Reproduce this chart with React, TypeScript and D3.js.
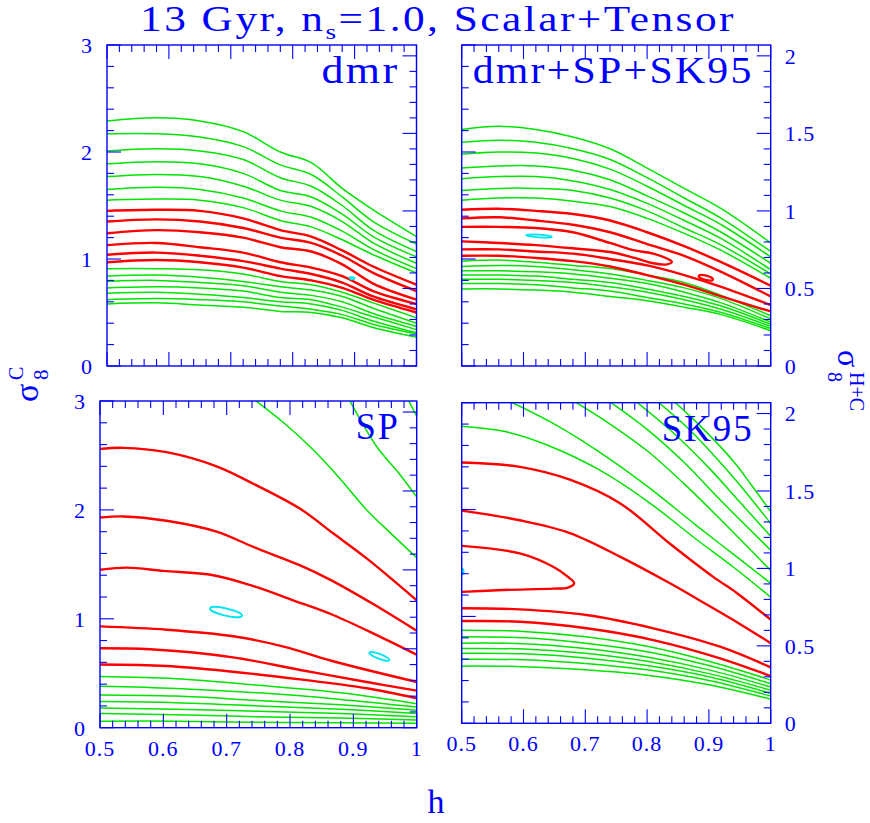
import React from "react";
import * as d3 from "d3";

// ---------------- data (h on x, sigma8^C on the 0..3 scale) ----------------
// dmr panel: all contours sampled on a common h grid
const dmrH = [0.5, 0.58, 0.65, 0.72, 0.78, 0.83, 0.88, 0.93, 1.0];
const dmrGreenUpper = [
  [2.29, 2.32, 2.29, 2.19, 2.0, 1.9, 1.66, 1.46, 1.21],
  [2.17, 2.17, 2.14, 2.05, 1.88, 1.79, 1.58, 1.35, 1.14],
  [2.01, 2.03, 2.01, 1.93, 1.76, 1.68, 1.5, 1.27, 1.07],
  [1.89, 1.91, 1.89, 1.8, 1.64, 1.58, 1.42, 1.21, 1.02],
  [1.77, 1.79, 1.77, 1.68, 1.55, 1.49, 1.35, 1.15, 0.96],
  [1.65, 1.67, 1.65, 1.57, 1.45, 1.39, 1.26, 1.09, 0.91],
  [1.55, 1.56, 1.55, 1.48, 1.36, 1.3, 1.18, 1.04, 0.87],
];
const dmrRed = [
  [1.45, 1.46, 1.45, 1.38, 1.27, 1.21, 1.08, 0.93, 0.76],
  [1.35, 1.37, 1.35, 1.29, 1.2, 1.15, 1.03, 0.87, 0.7],
  [1.24, 1.27, 1.25, 1.2, 1.11, 1.07, 0.95, 0.77, 0.62],
  [1.13, 1.15, 1.11, 1.06, 0.97, 0.92, 0.84, 0.7, 0.58],
  [1.04, 1.06, 1.03, 0.98, 0.91, 0.86, 0.78, 0.65, 0.53],
  [0.97, 0.99, 0.97, 0.92, 0.84, 0.8, 0.73, 0.62, 0.5],
];
const dmrGreenLower = [
  [0.91, 0.91, 0.9, 0.86, 0.79, 0.76, 0.69, 0.59, 0.45],
  [0.84, 0.85, 0.83, 0.79, 0.74, 0.71, 0.65, 0.54, 0.4],
  [0.79, 0.8, 0.78, 0.75, 0.69, 0.66, 0.6, 0.49, 0.37],
  [0.73, 0.74, 0.73, 0.7, 0.64, 0.62, 0.55, 0.46, 0.34],
  [0.68, 0.69, 0.67, 0.64, 0.6, 0.58, 0.52, 0.42, 0.31],
  [0.62, 0.63, 0.62, 0.6, 0.56, 0.53, 0.48, 0.39, 0.3],
  [0.58, 0.59, 0.57, 0.55, 0.51, 0.5, 0.45, 0.36, 0.27],
];
const dmrCyan = [{ h: 0.896, s: 0.82, dh: 0.004, ds: 0.01, angle: 10 }];

// dmr+SP+SK95 panel
const allH = [0.5, 0.56, 0.62, 0.68, 0.74, 0.8, 0.86, 0.92, 1.0];
const allGreenUpper = [
  [2.21, 2.24, 2.21, 2.14, 2.03, 1.85, 1.66, 1.47, 1.15],
  [2.09, 2.11, 2.09, 2.03, 1.93, 1.76, 1.57, 1.38, 1.07],
  [1.98, 2.0, 1.99, 1.94, 1.84, 1.68, 1.5, 1.32, 1.02],
  [1.85, 1.87, 1.87, 1.83, 1.74, 1.59, 1.43, 1.25, 0.96],
  [1.75, 1.77, 1.77, 1.73, 1.65, 1.52, 1.36, 1.19, 0.9],
  [1.64, 1.66, 1.66, 1.64, 1.57, 1.45, 1.29, 1.13, 0.86],
  [1.55, 1.57, 1.57, 1.54, 1.49, 1.38, 1.24, 1.08, 0.82],
];
const allRed = [
  [1.46, 1.47, 1.45, 1.42, 1.36, 1.25, 1.12, 0.97, 0.75],
  [1.38, 1.39, 1.36, 1.32, 1.25, 1.14, 1.03, 0.88, 0.65],
  [1.09, 1.09, 1.07, 1.05, 1.0, 0.94, 0.85, 0.74, 0.57],
  [1.03, 1.03, 1.01, 0.98, 0.93, 0.85, 0.76, 0.65, 0.51],
];
const allTongue = [
  [0.5, 1.3], [0.56, 1.3], [0.62, 1.29], [0.68, 1.25], [0.74, 1.15], [0.78, 1.08],
  [0.81, 1.05], [0.832, 1.005], [0.84, 0.975], [0.832, 0.95], [0.81, 0.96],
  [0.78, 1.01], [0.74, 1.065], [0.68, 1.1], [0.62, 1.13], [0.56, 1.15], [0.5, 1.165],
];
const allGreenLower = [
  [0.98, 0.99, 0.97, 0.94, 0.91, 0.85, 0.78, 0.66, 0.47],
  [0.93, 0.94, 0.93, 0.9, 0.86, 0.8, 0.73, 0.63, 0.44],
  [0.89, 0.89, 0.88, 0.86, 0.82, 0.77, 0.69, 0.59, 0.41],
  [0.85, 0.85, 0.84, 0.81, 0.78, 0.72, 0.65, 0.56, 0.39],
  [0.81, 0.81, 0.8, 0.78, 0.74, 0.69, 0.62, 0.53, 0.37],
  [0.77, 0.77, 0.76, 0.73, 0.7, 0.64, 0.58, 0.5, 0.35],
  [0.72, 0.72, 0.71, 0.69, 0.65, 0.61, 0.55, 0.48, 0.33],
];
const allRedLoops = [{ h: 0.895, s: 0.825, dh: 0.012, ds: 0.02, angle: 15 }];
const allCyan = [{ h: 0.625, s: 1.215, dh: 0.021, ds: 0.012, angle: 4 }];

// SP panel
const spGreenUpper = [
  [[0.735, 3.05], [0.79, 2.8], [0.837, 2.55], [0.88, 2.28], [0.921, 2.0], [0.96, 1.78], [1.0, 1.56]],
  [[0.89, 3.05], [0.937, 2.58], [0.97, 2.35], [1.0, 2.12]],
  [[0.983, 3.05], [1.0, 2.86]],
];
const spRed = [
  [[0.5, 2.56], [0.537, 2.57], [0.605, 2.53], [0.684, 2.4], [0.742, 2.24], [0.816, 2.01], [0.868, 1.785], [0.921, 1.555], [1.0, 1.17]],
  [[0.5, 1.93], [0.537, 1.94], [0.605, 1.9], [0.684, 1.8], [0.742, 1.66], [0.816, 1.49], [0.863, 1.36], [0.93, 1.14], [1.0, 0.89]],
  [[0.5, 1.45], [0.542, 1.47], [0.6, 1.44], [0.679, 1.4], [0.742, 1.3], [0.805, 1.17], [0.868, 1.035], [0.937, 0.85], [1.0, 0.67]],
  [[0.5, 0.93], [0.605, 0.9], [0.71, 0.84], [0.79, 0.745], [0.868, 0.61], [1.0, 0.42]],
  [[0.5, 0.73], [0.579, 0.72], [0.71, 0.646], [0.816, 0.53], [0.921, 0.42], [1.0, 0.34]],
  [[0.5, 0.58], [0.605, 0.567], [0.71, 0.514], [0.816, 0.444], [0.921, 0.362], [1.0, 0.27]],
];
const spLowH = [0.5, 0.62, 0.75, 0.88, 1.0];
const spGreenLower = [
  [0.47, 0.45, 0.39, 0.32, 0.22],
  [0.38, 0.36, 0.32, 0.26, 0.19],
  [0.3, 0.29, 0.25, 0.21, 0.16],
  [0.24, 0.23, 0.2, 0.17, 0.13],
  [0.18, 0.17, 0.15, 0.13, 0.1],
  [0.13, 0.12, 0.1, 0.09, 0.07],
  [0.06, 0.06, 0.05, 0.045, 0.04],
];
const spCyan = [
  { h: 0.699, s: 1.062, dh: 0.026, ds: 0.033, angle: 13 },
  { h: 0.941, s: 0.655, dh: 0.017, ds: 0.022, angle: 21 },
];

// SK95 panel
const skGreenUpper = [
  [[0.5, 2.78], [0.57, 2.73], [0.64, 2.6], [0.72, 2.38], [0.8, 2.08], [0.88, 1.72], [0.94, 1.46], [1.0, 1.18]],
  [[0.575, 3.02], [0.65, 2.8], [0.72, 2.55], [0.8, 2.22], [0.88, 1.85], [0.94, 1.58], [1.0, 1.31]],
  [[0.68, 3.02], [0.74, 2.8], [0.8, 2.55], [0.86, 2.24], [0.92, 1.9], [1.0, 1.43]],
  [[0.737, 3.02], [0.8, 2.75], [0.86, 2.44], [0.92, 2.08], [1.0, 1.62]],
  [[0.78, 3.02], [0.84, 2.73], [0.9, 2.39], [0.95, 2.07], [1.0, 1.75]],
  [[0.815, 3.02], [0.87, 2.74], [0.92, 2.43], [0.96, 2.16], [1.0, 1.87]],
  [[0.842, 3.02], [0.89, 2.76], [0.94, 2.45], [0.97, 2.22], [1.0, 1.98]],
];
const skRed = [
  [[0.5, 2.44], [0.594, 2.4], [0.675, 2.28], [0.756, 2.06], [0.837, 1.68], [0.907, 1.37], [0.945, 1.22], [1.0, 0.97]],
  [[0.5, 1.99], [0.594, 1.9], [0.675, 1.78], [0.756, 1.56], [0.837, 1.31], [0.9, 1.1], [0.95, 0.93], [1.0, 0.75]],
  [[0.5, 1.66], [0.594, 1.59], [0.648, 1.465], [0.672, 1.37], [0.682, 1.31], [0.672, 1.27], [0.648, 1.26], [0.567, 1.247], [0.5, 1.23]],
  [[0.5, 1.076], [0.594, 1.066], [0.702, 1.013], [0.81, 0.889], [0.918, 0.717], [1.0, 0.524]],
  [[0.5, 0.957], [0.594, 0.95], [0.702, 0.889], [0.81, 0.779], [0.918, 0.608], [1.0, 0.442]],
];
const skLowH = [0.5, 0.6, 0.7, 0.8, 0.9, 1.0];
const skGreenLower = [
  [0.87, 0.86, 0.81, 0.72, 0.58, 0.405],
  [0.81, 0.8, 0.75, 0.67, 0.54, 0.37],
  [0.75, 0.745, 0.7, 0.62, 0.5, 0.34],
  [0.7, 0.695, 0.655, 0.58, 0.465, 0.31],
  [0.655, 0.65, 0.61, 0.54, 0.435, 0.28],
  [0.6, 0.595, 0.56, 0.5, 0.4, 0.255],
  [0.535, 0.53, 0.5, 0.45, 0.36, 0.225],
];
const skCyan = [{ h: 0.499, s: 1.42, dh: 0.004, ds: 0.03, angle: 0 }];

// axis definitions
const hDomain = [0.5, 1.0];
const sigmaCDomain = [0, 3];
const sigmaHCDomain = [0, 2.07];
const hTickLabels = ["0.5", "0.6", "0.7", "0.8", "0.9", "1"];
const leftTickLabels = ["0", "1", "2", "3"];
const rightTickLabels = ["0", "0.5", "1", "1.5", "2"];

// ---------------- styling ----------------
const BLUE = "#0000ff";
const GREEN = "#00e400";
const RED = "#ff0000";
const CYAN = "#00e5f0";
const FONT = "'Liberation Serif', 'Times New Roman', serif";

type Pt = [number, number];
type Ell = { h: number; s: number; dh: number; ds: number; angle: number };
type Box = { x0: number; x1: number; y0: number; y1: number };

const gridRows = (grid: number[], rows: number[][]): Pt[][] =>
  rows.map((r) => r.map((s, i) => [grid[i], s] as Pt));

function Panel(props: {
  id: string;
  box: Box;
  label: string;
  labelWidth: number;
  greens: Pt[][];
  reds: Pt[][];
  redLoops?: Ell[];
  cyan?: Ell[];
  side: "left" | "right";
  bottomLabels: boolean;
}) {
  const { id, box, label, labelWidth, greens, reds, redLoops = [], cyan = [], side, bottomLabels } = props;
  const x = d3.scaleLinear().domain(hDomain).range([box.x0, box.x1]);
  const yC = d3.scaleLinear().domain(sigmaCDomain).range([box.y1, box.y0]);
  const yHC = d3.scaleLinear().domain(sigmaHCDomain).range([box.y1, box.y0]);
  const line = d3
    .line<Pt>()
    .x((d) => x(d[0]))
    .y((d) => yC(d[1]))
    .curve(d3.curveCatmullRom.alpha(0.5));

  const near = (v: number, step: number) => Math.abs(v / step - Math.round(v / step)) < 1e-6;
  const MAJ = 14;
  const MIN = 7;
  const xt = x.ticks(25);
  const lt = yC.ticks(15);
  const rt = yHC.ticks(20);

  const ell = (e: Ell, color: string, w: number, key: string, fill = "none") => {
    const cx = x(e.h);
    const cy = yC(e.s);
    const rx = Math.abs(x(e.h + e.dh) - cx);
    const ry = Math.abs(yC(e.s + e.ds) - cy);
    return (
      <ellipse
        key={key}
        cx={cx}
        cy={cy}
        rx={rx}
        ry={ry}
        transform={`rotate(${e.angle} ${cx} ${cy})`}
        fill={fill}
        stroke={color}
        strokeWidth={w}
      />
    );
  };

  const tickFont = { fontSize: 22, fontFamily: FONT, fill: BLUE, letterSpacing: 1 };

  return (
    <g>
      <defs>
        <clipPath id={`clip-${id}`}>
          <rect x={box.x0} y={box.y0} width={box.x1 - box.x0} height={box.y1 - box.y0} />
        </clipPath>
      </defs>
      <g clipPath={`url(#clip-${id})`}>
        {greens.map((g, i) => (
          <path key={`g${i}`} d={line(g) || ""} fill="none" stroke={GREEN} strokeWidth={1.5} />
        ))}
        {reds.map((r, i) => (
          <path key={`r${i}`} d={line(r) || ""} fill="none" stroke={RED} strokeWidth={2.4} />
        ))}
        {redLoops.map((e, i) => ell(e, RED, 2.2, `rl${i}`))}
        {cyan.map((e, i) => ell(e, CYAN, 1.8, `c${i}`))}
      </g>
      <rect
        x={box.x0}
        y={box.y0}
        width={box.x1 - box.x0}
        height={box.y1 - box.y0}
        fill="none"
        stroke={BLUE}
        strokeWidth={1.4}
      />
      {xt.map((v, i) => {
        const L = near(v, 0.1) ? MAJ : MIN;
        const px = x(v);
        return (
          <g key={`xt${i}`}>
            <line x1={px} x2={px} y1={box.y1} y2={box.y1 - L} stroke={BLUE} strokeWidth={1.1} />
            <line x1={px} x2={px} y1={box.y0} y2={box.y0 + L} stroke={BLUE} strokeWidth={1.1} />
          </g>
        );
      })}
      {lt.map((v, i) => {
        const L = near(v, 1) ? MAJ : MIN;
        const py = yC(v);
        return <line key={`lt${i}`} x1={box.x0} x2={box.x0 + L} y1={py} y2={py} stroke={BLUE} strokeWidth={1.1} />;
      })}
      {rt.map((v, i) => {
        const L = near(v, 0.5) ? MAJ : MIN;
        const py = yHC(v);
        return <line key={`rt${i}`} x1={box.x1} x2={box.x1 - L} y1={py} y2={py} stroke={BLUE} strokeWidth={1.1} />;
      })}
      {side === "left" &&
        leftTickLabels.map((t) => (
          <text key={`ll${t}`} x={box.x0 - 14} y={yC(+t)} dy="0.36em" textAnchor="end" {...tickFont}>
            {t}
          </text>
        ))}
      {side === "right" &&
        rightTickLabels.map((t) => (
          <text key={`rl${t}`} x={box.x1 + 14} y={yHC(+t)} dy="0.36em" textAnchor="start" {...tickFont}>
            {t}
          </text>
        ))}
      {bottomLabels &&
        hTickLabels.map((t) => (
          <text key={`bl${t}`} x={x(+t)} y={box.y1 + 28} textAnchor="middle" {...tickFont}>
            {t}
          </text>
        ))}
      <text
        x={box.x1 - 17 - labelWidth}
        y={box.y0 + 38}
        fontSize={37}
        fontFamily={FONT}
        fill={BLUE}
        letterSpacing={2}
        textLength={labelWidth}
        lengthAdjust="spacingAndGlyphs"
      >
        {label}
      </text>
    </g>
  );
}

export default function App() {
  const W = 870;
  const H = 823;
  const boxes: Record<string, Box> = {
    dmr: { x0: 107, x1: 416.5, y0: 45, y1: 366 },
    all: { x0: 461.7, x1: 770.7, y0: 45, y1: 366 },
    sp: { x0: 100, x1: 416.7, y0: 401, y1: 727.7 },
    sk: { x0: 461.7, x1: 770.7, y0: 402.7, y1: 723.3 },
  };
  return (
    <svg
      width={W}
      height={H}
      viewBox={`0 0 ${W} ${H}`}
      style={{ position: "absolute", left: 0, top: 0, background: "#fff" }}
    >
      <rect x={0} y={0} width={W} height={H} fill="#fff" />
      <text
        x={140}
        y={31}
        fontSize={35}
        fontFamily={FONT}
        fill={BLUE}
        letterSpacing={2}
        textLength={596}
        lengthAdjust="spacingAndGlyphs"
      >
        13 Gyr, n
        <tspan fontSize={22} dy={8}>
          s
        </tspan>
        <tspan dy={-8}>=1.0, Scalar+Tensor</tspan>
      </text>

      <Panel
        id="dmr"
        box={boxes.dmr}
        label="dmr"
        labelWidth={78}
        greens={[...gridRows(dmrH, dmrGreenUpper), ...gridRows(dmrH, dmrGreenLower)]}
        reds={gridRows(dmrH, dmrRed)}
        cyan={dmrCyan}
        side="left"
        bottomLabels={false}
      />
      <Panel
        id="all"
        box={boxes.all}
        label="dmr+SP+SK95"
        labelWidth={281}
        greens={[...gridRows(allH, allGreenUpper), ...gridRows(allH, allGreenLower)]}
        reds={[...gridRows(allH, allRed), allTongue as Pt[]]}
        redLoops={allRedLoops}
        cyan={allCyan}
        side="right"
        bottomLabels={false}
      />
      <Panel
        id="sp"
        box={boxes.sp}
        label="SP"
        labelWidth={44}
        greens={[...(spGreenUpper as Pt[][]), ...gridRows(spLowH, spGreenLower)]}
        reds={spRed as Pt[][]}
        cyan={spCyan}
        side="left"
        bottomLabels={true}
      />
      <Panel
        id="sk"
        box={boxes.sk}
        label="SK95"
        labelWidth={92}
        greens={[...(skGreenUpper as Pt[][]), ...gridRows(skLowH, skGreenLower)]}
        reds={skRed as Pt[][]}
        cyan={skCyan}
        side="right"
        bottomLabels={true}
      />

      <g transform="translate(38,402) rotate(-90)" fill={BLUE} fontFamily={FONT}>
        <text x={0} y={0} fontSize={34}>σ</text>
        <text x={22} y={10} fontSize={21}>8</text>
        <text x={22} y={-15} fontSize={20}>C</text>
      </g>
      <g transform="translate(838,350) rotate(90)" fill={BLUE} fontFamily={FONT}>
        <text x={0} y={0} fontSize={32}>σ</text>
        <text x={22} y={10} fontSize={20}>8</text>
        <text x={22} y={-12} fontSize={20}>H+C</text>
      </g>
      <text x={436} y={813} textAnchor="middle" fontSize={34} fontFamily={FONT} fill={BLUE}>
        h
      </text>
    </svg>
  );
}
